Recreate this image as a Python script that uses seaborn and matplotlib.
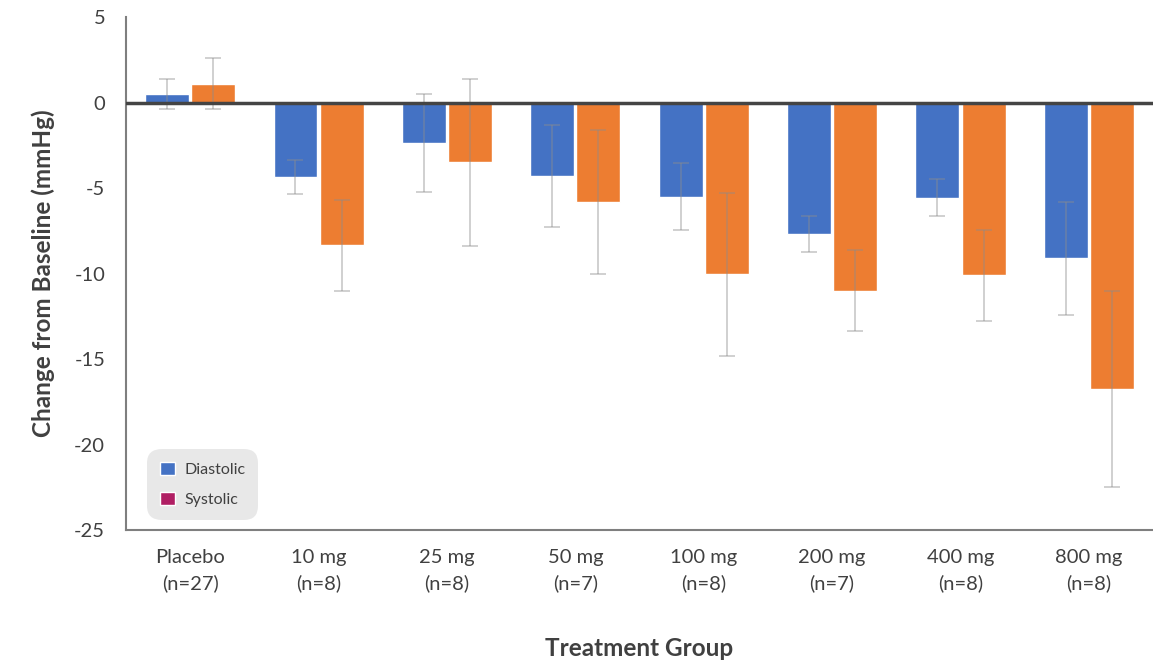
import pandas as pd
import matplotlib.pyplot as plt
from matplotlib.patches import Patch
import seaborn as sns

groups = ["Placebo\n(n=27)", "10 mg\n(n=8)", "25 mg\n(n=8)", "50 mg\n(n=7)",
          "100 mg\n(n=8)", "200 mg\n(n=7)", "400 mg\n(n=8)", "800 mg\n(n=8)"]
diastolic = [0.5, -4.35, -2.35, -4.3, -5.5, -7.7, -5.55, -9.1]
diastolic_err = [0.9, 1.0, 2.85, 3.0, 1.95, 1.05, 1.1, 3.3]
systolic = [1.1, -8.35, -3.5, -5.8, -10.05, -11.0, -10.1, -16.75]
systolic_err = [1.5, 2.65, 4.9, 4.2, 4.75, 2.35, 2.65, 5.75]

sns.set_style("white")
plt.rcParams['font.family'] = ['Lato', 'DejaVu Sans']
plt.rcParams['axes.unicode_minus'] = False

dt = pd.DataFrame({
    "group": groups * 2,
    "bp": ["Diastolic"] * len(groups) + ["Systolic"] * len(groups),
    "value": diastolic + systolic,
})

fig = plt.figure(figsize=(11.53, 6.6), dpi=100)
ax = fig.add_axes([0.1093, 0.197, 0.8907, 0.777])

sns.barplot(data=dt, x="group", y="value", hue="bp", order=groups,
            hue_order=["Diastolic", "Systolic"],
            palette={"Diastolic": "#4472C4", "Systolic": "#ED7D31"},
            saturation=1, errorbar=None, width=0.72, gap=0.05, legend=False, ax=ax)

# error bars at the bar centres
errs = diastolic_err + systolic_err
vals = diastolic + systolic
for p, v, e in zip(ax.patches, vals, errs):
    xc = p.get_x() + p.get_width() / 2
    ax.errorbar(xc, v, yerr=e, fmt="none", ecolor="#8c8c8c", alpha=0.4,
                elinewidth=1.4, capsize=6, capthick=1.4, zorder=3)

ax.axhline(0, color="#444444", lw=2.5, zorder=4)
ax.set_ylim(-25, 5)
ax.set_xlim(-0.5, len(groups) - 0.5)
ax.set_yticks(range(-25, 6, 5))
sns.despine(ax=ax, top=True, right=True)
for s in ["left", "bottom"]:
    ax.spines[s].set_color("#7f7f7f")
    ax.spines[s].set_linewidth(1.5)

ax.tick_params(axis="both", length=0, labelsize=14.5, labelcolor="#404040")
ax.tick_params(axis="y", pad=15)
ax.tick_params(axis="x", pad=14)
for t in ax.get_xticklabels():
    t.set_linespacing(1.55)

ax.set_xlabel("Treatment Group", fontsize=17.5, fontweight="bold", color="#404040", labelpad=32)
ax.set_ylabel("Change from Baseline (mmHg)", fontsize=17.5, fontweight="bold", color="#404040", labelpad=14)

handles = [Patch(facecolor="#4472C4", label="Diastolic"),
           Patch(facecolor="#B01E63", label="Systolic")]
leg = ax.legend(handles=handles, loc="lower left", bbox_to_anchor=(0.013, 0.004),
                frameon=True, fancybox=True, fontsize=11.5, handlelength=0.9, handleheight=0.9,
                labelspacing=0.95, borderpad=0.8, handletextpad=0.6)
leg.get_frame().set_facecolor("#e3e3e3")
leg.get_frame().set_edgecolor("none")
leg.get_frame().set_boxstyle("round", pad=0, rounding_size=0.9)
for t in leg.get_texts():
    t.set_color("#404040")

fig.savefig("out.png", dpi=100)
